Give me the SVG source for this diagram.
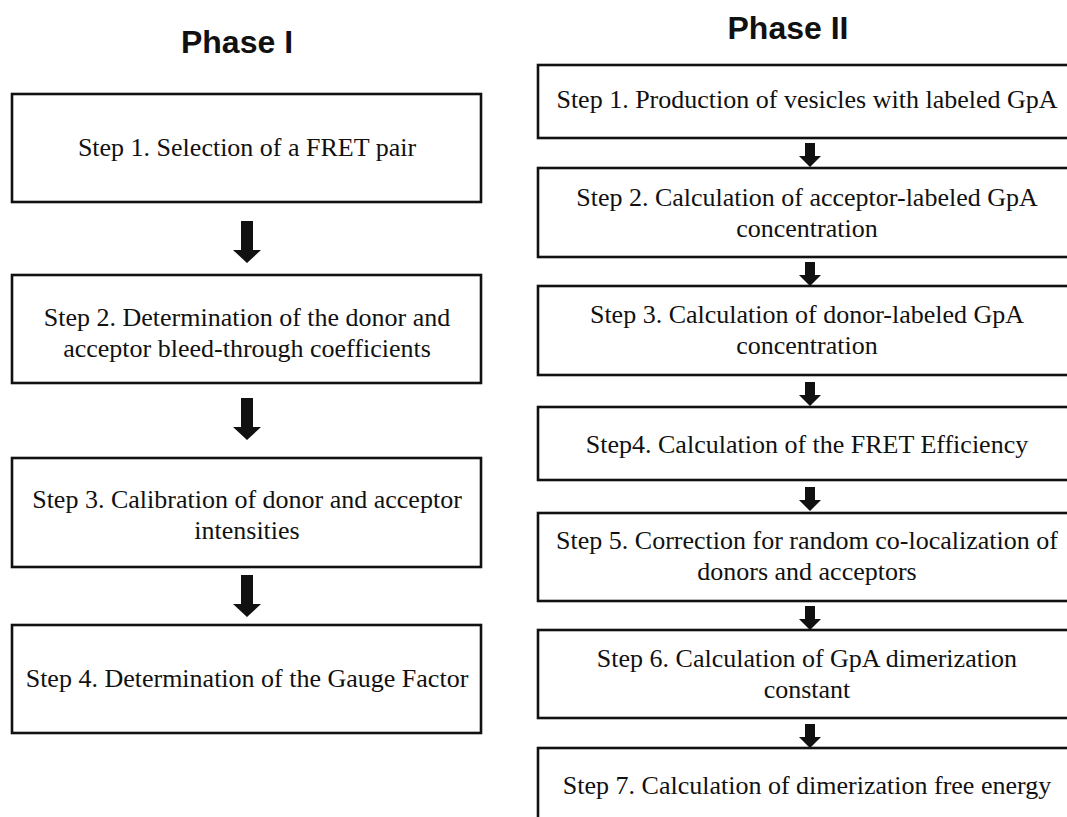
<svg xmlns="http://www.w3.org/2000/svg" xmlns:xlink="http://www.w3.org/1999/xlink" width="1067" height="817" viewBox="0 0 1067 817">
<style>
.box{fill:#fff;stroke:#111;stroke-width:2.6}
.t{font-family:"Liberation Serif","Times New Roman",serif;font-size:26px;fill:#111;text-anchor:middle}
.h{font-family:"Liberation Sans",Arial,sans-serif;font-size:32px;font-weight:bold;fill:#111;text-anchor:middle}
.arr{fill:#111}
</style>
<defs>
<path id="bigArrow" d="M-6,0 H6 V29 H14 L0,42 L-14,29 H-6 Z"/>
<path id="smallArrow" d="M-5,0 H5 V13 H11 L0,24 L-11,13 H-5 Z"/>
</defs>
<rect width="1067" height="817" fill="#fff"/>
<text class="h" x="237" y="53">Phase I</text>
<text class="h" x="788" y="39">Phase II</text>

<g id="connectors" class="arr">
<use xlink:href="#bigArrow" x="247" y="221"/>
<use xlink:href="#bigArrow" x="247" y="398"/>
<use xlink:href="#bigArrow" x="247" y="575"/>
<use xlink:href="#smallArrow" x="810" y="143"/>
<use xlink:href="#smallArrow" x="810" y="262"/>
<use xlink:href="#smallArrow" x="810" y="382"/>
<use xlink:href="#smallArrow" x="810" y="487"/>
<use xlink:href="#smallArrow" x="810" y="606"/>
<use xlink:href="#smallArrow" x="810" y="724"/>
</g>

<g id="p1s1"><rect class="box" x="12" y="94" width="469" height="108"/><text class="t" x="247" y="156">Step 1. Selection of a FRET pair</text></g>
<g id="p1s2"><rect class="box" x="12" y="275" width="469" height="108"/><text class="t" x="247" y="326">Step 2. Determination of the donor and</text><text class="t" x="247" y="357">acceptor bleed-through coefficients</text></g>
<g id="p1s3"><rect class="box" x="12" y="458" width="469" height="109"/><text class="t" x="247" y="508">Step 3. Calibration of donor and acceptor</text><text class="t" x="247" y="539">intensities</text></g>
<g id="p1s4"><rect class="box" x="12" y="625" width="469" height="108"/><text class="t" x="247" y="687">Step 4. Determination of the Gauge Factor</text></g>

<g id="p2s1"><rect class="box" x="538" y="65" width="545" height="73"/><text class="t" x="807" y="108">Step 1. Production of vesicles with labeled GpA</text></g>
<g id="p2s2"><rect class="box" x="538" y="168" width="545" height="89"/><text class="t" x="807" y="206">Step 2. Calculation of acceptor-labeled GpA</text><text class="t" x="807" y="237">concentration</text></g>
<g id="p2s3"><rect class="box" x="538" y="286" width="545" height="89"/><text class="t" x="807" y="323">Step 3. Calculation of donor-labeled GpA</text><text class="t" x="807" y="354">concentration</text></g>
<g id="p2s4"><rect class="box" x="538" y="407" width="545" height="73"/><text class="t" x="807" y="453">Step4. Calculation of the FRET Efficiency</text></g>
<g id="p2s5"><rect class="box" x="538" y="513" width="545" height="88"/><text class="t" x="807" y="549">Step 5. Correction for random co-localization of</text><text class="t" x="807" y="580">donors and acceptors</text></g>
<g id="p2s6"><rect class="box" x="538" y="630" width="545" height="88"/><text class="t" x="807" y="667">Step 6. Calculation of GpA dimerization</text><text class="t" x="807" y="698">constant</text></g>
<g id="p2s7"><rect class="box" x="538" y="748" width="545" height="100"/><text class="t" x="807" y="794">Step 7. Calculation of dimerization free energy</text></g>
</svg>
